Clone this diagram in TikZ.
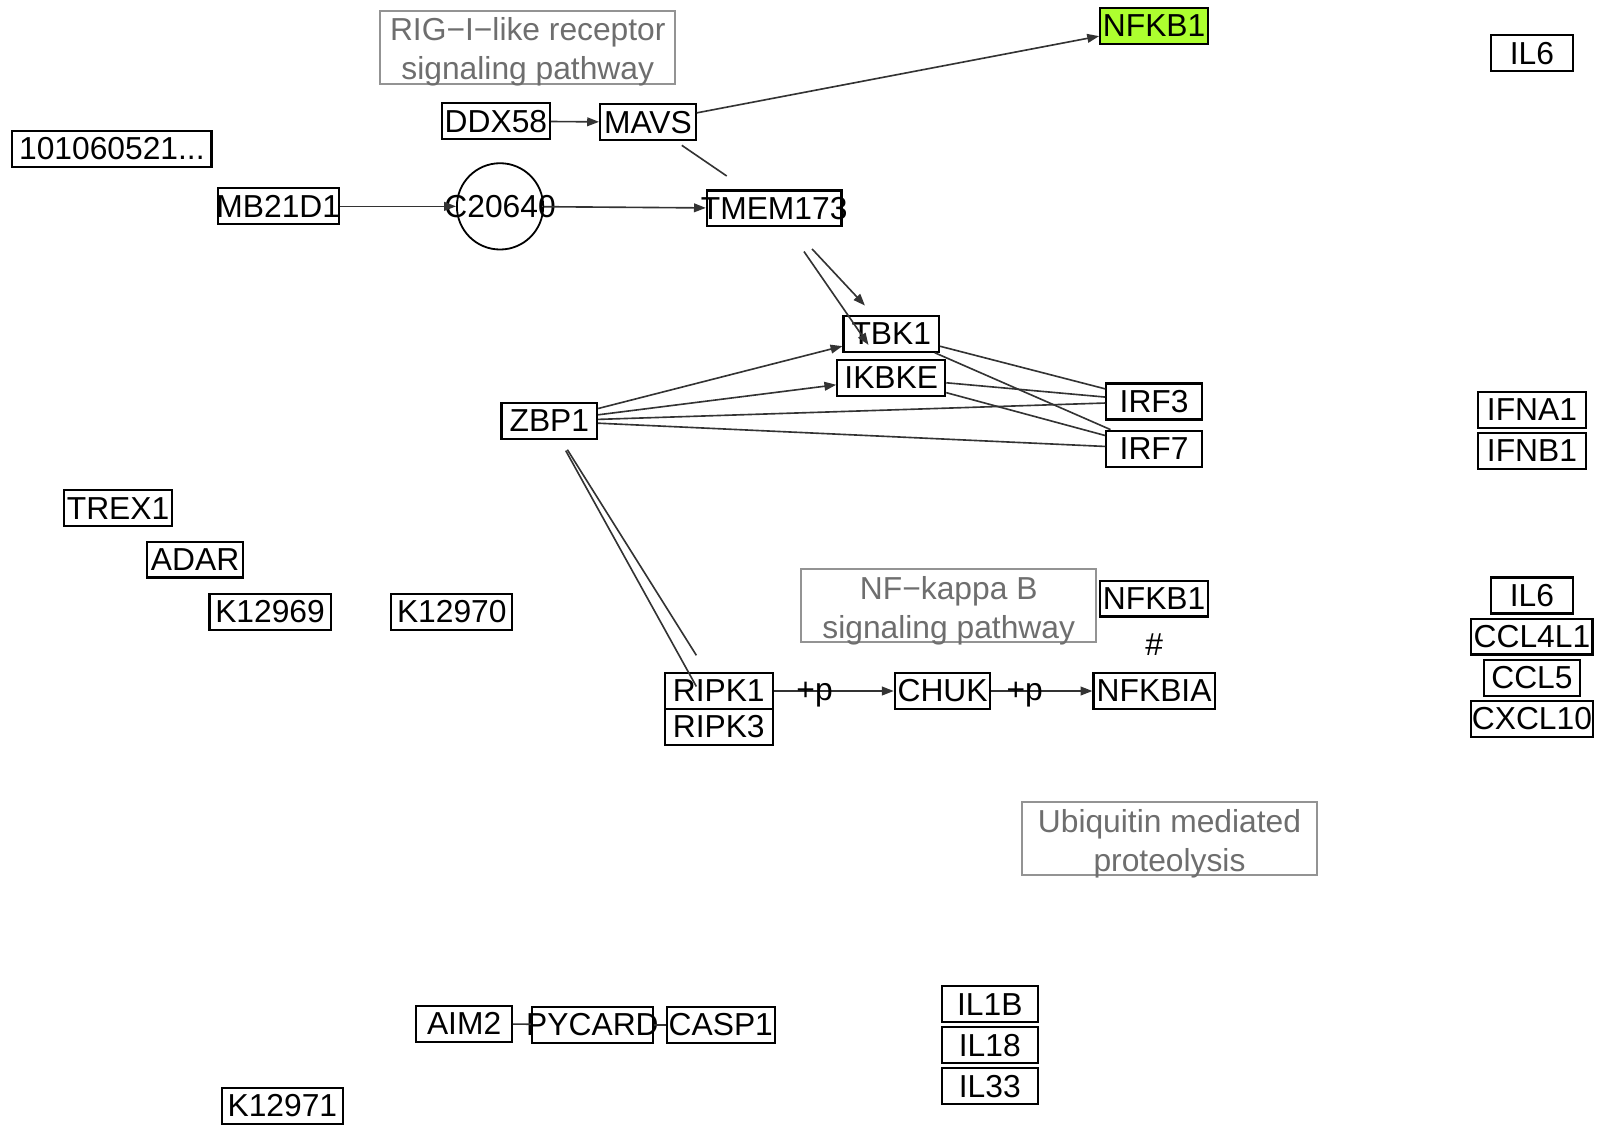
\documentclass[tikz,border=0pt]{standalone}
\usepackage{fontspec}
\setmainfont{Liberation Sans}
\usetikzlibrary{arrows.meta}
\definecolor{hitgreen}{HTML}{ADFF2F}
\definecolor{pathgray}{HTML}{6E6E6E}
\newcommand{\ovr}[1]{\makebox[0pt]{#1}}
\newcommand{\pwstrut}{\rule{0pt}{9pt}}
\tikzset{
  gene/.style={draw=black, line width=0.6pt, minimum width=#1, minimum height=0.35cm, inner sep=0.3pt},
  gene/.default=0.93cm,
  cpd/.style={draw=black, line width=0.5pt, circle, minimum size=0.84cm, inner sep=0pt},
  pathway/.style={draw=gray!85, line width=0.6pt, text=pathgray, minimum width=2.87cm, minimum height=0.71cm, align=center, inner xsep=0pt, inner ysep=-2pt},
  rel/.style={draw=black!80, line width=0.45pt},
  act/.style={rel, -{Triangle[length=1.15mm, width=0.85mm]}},
  plab/.style={inner sep=0pt, yshift=-1pt}
}

\begin{document}
\begin{tikzpicture}[x=0.01cm, y=-0.01cm, font=\fontsize{8.8}{10.8}\selectfont]
\useasboundingbox (0,0) rectangle (1568,1098);

% pathway maps
\node (rigmap) at (514,46) [pathway] {\pwstrut RIG−I−like receptor\\signaling pathway};
\node (nfkbmap) at (924,590) [pathway] {\pwstrut NF−kappa B\\signaling pathway};
\node (ubqmap) at (1139,817) [pathway] {\pwstrut Ubiquitin mediated\\proteolysis};

% sensors
\node (nfkb1a) at (1124,25) [gene=1.05cm, fill=hitgreen] {NFKB1};
\node (ddx58) at (483,118) [gene=1.05cm] {DDX58};
\node (mavs) at (631,119) [gene] {MAVS};
\node (loc) at (109,145) [gene=1.94cm] {101060521...};
\node (mb21d1) at (271,201) [gene=1.18cm] {\ovr{MB21D1}};
\node (c20640) at (487,201) [cpd] {\ovr{C20640}};
\node (tmem173) at (754,203) [gene=1.31cm] {\ovr{TMEM173}};
\node (tbk1) at (868,325) [gene] {TBK1};
\node (ikbke) at (868,368) [gene=1.05cm] {IKBKE};
\node (zbp1) at (535,410) [gene] {ZBP1};
\node (irf3) at (1124,391) [gene] {IRF3};
\node (irf7) at (1124,437) [gene] {IRF7};
\node (trex1) at (115,495) [gene=1.05cm] {TREX1};
\node (adar) at (190,545) [gene] {ADAR};
\node (k12969) at (263,596) [gene=1.18cm] {K12969};
\node (k12970) at (440,596) [gene=1.18cm] {K12970};

% NF-kB branch
\node (nfkb1b) at (1124,583) [gene=1.05cm] {NFKB1};
\node (ripk1) at (700,673) [gene=1.05cm] {RIPK1};
\node (ripk3) at (700,708) [gene=1.05cm] {RIPK3};
\node (chuk) at (918,673) [gene] {CHUK};
\node (nfkbia) at (1124,673) [gene=1.18cm] {NFKBIA};

% inflammasome
\node (aim2) at (452,997) [gene] {AIM2};
\node (pycard) at (577,998) [gene=1.18cm] {\ovr{PYCARD}};
\node (casp1) at (702,998) [gene=1.05cm] {CASP1};
\node (il1b) at (964,978) [gene] {IL1B};
\node (il18) at (964,1018) [gene] {IL18};
\node (il33) at (964,1058) [gene] {IL33};
\node (k12971) at (275,1077) [gene=1.18cm] {K12971};

% cytokines
\node (il6a) at (1492,52) [gene=0.80cm] {IL6};
\node (ifna1) at (1492,399) [gene=1.05cm] {IFNA1};
\node (ifnb1) at (1492,439) [gene=1.05cm] {IFNB1};
\node (il6b) at (1492,580) [gene=0.80cm] {IL6};
\node (ccl4l1) at (1492,620) [gene=1.18cm] {CCL4L1};
\node (ccl5) at (1492,660) [gene] {CCL5};
\node (cxcl10) at (1492,700) [gene=1.18cm] {CXCL10};

% relations
\draw[act] (ddx58) -- (mavs);
\draw[act] (mavs) -- (nfkb1a);
\draw[rel, shorten <=0.40cm, shorten >=0.56cm] (mavs.center) -- (tmem173.center);
\draw[act] (mb21d1) -- (c20640);
\draw[act] (c20640) -- (tmem173);
\draw[act, shorten <=0.54cm, shorten >=0.375cm] (tmem173.center) -- (tbk1.center);
\draw[act, shorten <=0.51cm, shorten >=0.39cm] (tmem173.center) -- (ikbke.center);
\draw[act] (zbp1) -- (tbk1);
\draw[act] (zbp1) -- (ikbke);
\draw[rel] (zbp1) -- (irf3);
\draw[rel] (zbp1) -- (irf7);
\draw[rel] (tbk1) -- (irf3);
\draw[rel] (tbk1) -- (irf7);
\draw[rel] (ikbke) -- (irf3);
\draw[rel] (ikbke) -- (irf7);
\draw[rel, shorten <=0.33cm, shorten >=0.41cm] (zbp1.center) -- (ripk1.center);
\draw[rel, shorten <=0.33cm, shorten >=0.45cm] (zbp1.center) -- (ripk3.center);
\draw[act] (ripk1) -- node[pos=0.34, plab] {+p} (chuk);
\draw[act] (chuk) -- node[pos=0.33, plab] {+p} (nfkbia);
\path (nfkb1b) -- node {\#} (nfkbia);
\draw[rel] (aim2) -- (pycard);
\draw[rel] (pycard) -- (casp1);
\end{tikzpicture}
\end{document}
